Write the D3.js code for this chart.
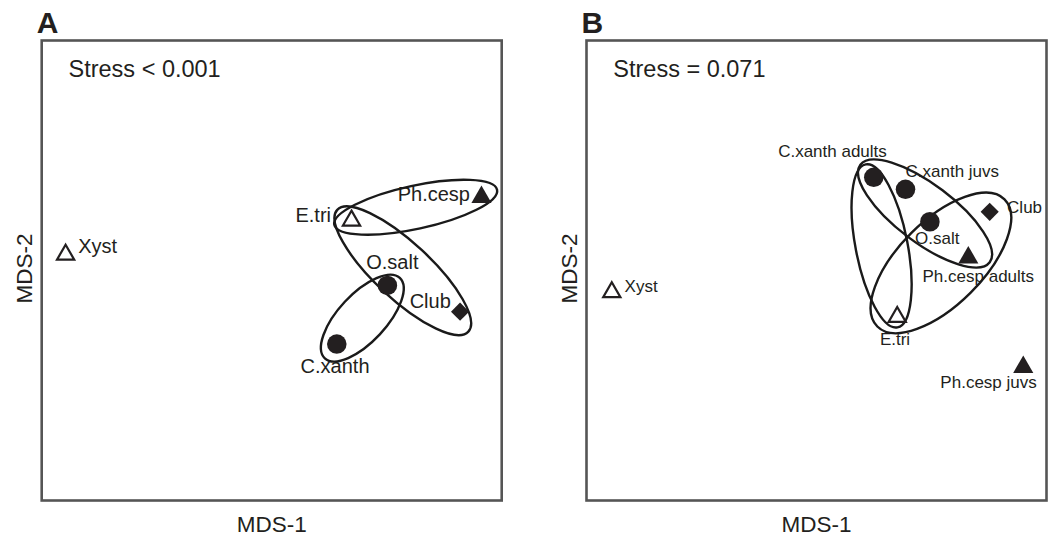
<!DOCTYPE html>
<html>
<head>
<meta charset="utf-8">
<script src="https://cdn.jsdelivr.net/npm/d3@7"></script>
<style>
    body { margin: 0; background: #fff; }
    svg { display: block; font-family: "Liberation Sans", Arial, sans-serif; }
</style>
</head>
<body>
<svg id="chart" width="1053" height="537"></svg>
<script>
// --- data (MDS coordinates) ---
const speciesA = ["Xyst", "E.tri", "Ph.cesp", "O.salt", "Club", "C.xanth"];
const mds1A = [-0.896, 0.347, 0.912, 0.503, 0.819, 0.283];
const mds2A = [0.069, 0.217, 0.319, -0.065, -0.179, -0.320];
const markerA = ["openTriangle", "openTriangle", "triangle", "circle", "diamond", "circle"];

const speciesB = ["Xyst", "C.xanth adults", "C.xanth juvs", "O.salt", "Club", "Ph.cesp adults", "E.tri", "Ph.cesp juvs"];
const mds1B = [-0.890, 0.249, 0.387, 0.493, 0.753, 0.660, 0.351, 0.899];
const mds2B = [-0.094, 0.405, 0.353, 0.212, 0.255, 0.056, -0.202, -0.420];
const markerB = ["openTriangle", "circle", "circle", "circle", "diamond", "triangle", "openTriangle", "triangle"];

// grouping ellipses: centre, semi-axes and tilt in MDS units / degrees
const ellipsesA = [
    { cx: 0.626, cy: 0.275, rx: 0.362, ry: 0.094, angle: 12.2 },
    { cx: 0.570, cy: -0.001, rx: 0.389, ry: 0.122, angle: -42.9 },
    { cx: 0.394, cy: -0.207, rx: 0.239, ry: 0.104, angle: 47 }
];
const ellipsesB = [
    { cx: 0.283, cy: 0.107, rx: 0.361, ry: 0.113, angle: -79 },
    { cx: 0.472, cy: 0.248, rx: 0.352, ry: 0.126, angle: -37 },
    { cx: 0.541, cy: 0.033, rx: 0.391, ry: 0.183, angle: 45 }
];

const stressA = "Stress < 0.001";
const stressB = "Stress = 0.071";
const axisTitles = ["MDS-1", "MDS-2"];

// label placement (anchor, dx, dy in px relative to marker)
const labelPosA = {
    "Xyst": ["start", 12.6, -2],
    "E.tri": ["end", -20.5, 1],
    "Ph.cesp": ["end", -11.5, 4],
    "O.salt": ["middle", 5, -16.5],
    "Club": ["end", -9.3, -3.4],
    "C.xanth": ["middle", -1.7, 28.7]
};
const labelPosB = {
    "Xyst": ["start", 12.8, 0],
    "C.xanth adults": ["middle", -41.3, -20],
    "C.xanth juvs": ["start", 0, -12],
    "O.salt": ["middle", 7.4, 22.3],
    "Club": ["start", 17.4, 1],
    "Ph.cesp adults": ["middle", 10, 24.7],
    "E.tri": ["middle", -2.2, 28.2],
    "Ph.cesp juvs": ["middle", -34.7, 21]
};

const frameSize = 460;
const frameTop = 40.5;
const ink = "#231f20";

const svg = d3.select("#chart");

function drawPanel(opts) {
    const left = opts.left;
    const x = d3.scaleLinear().domain([-1, 1]).range([left, left + frameSize]);
    const y = d3.scaleLinear().domain([-1, 1]).range([frameTop + frameSize, frameTop]);
    const unit = x(1) - x(0);
    const g = svg.append("g");

    // frame
    g.append("rect")
        .attr("x", left).attr("y", frameTop)
        .attr("width", frameSize).attr("height", frameSize)
        .attr("fill", "none")
        .attr("stroke", "#555")
        .attr("stroke-width", 2.6);

    // panel letter
    g.append("text")
        .attr("x", left - 5).attr("y", 32.5)
        .attr("font-size", 30).attr("font-weight", "bold")
        .attr("fill", ink)
        .text(opts.letter);

    g.append("text")
        .attr("x", left + 26.8).attr("y", 77)
        .attr("font-size", 23.5)
        .attr("fill", ink)
        .text(opts.stress);

    // axis titles
    g.append("text")
        .attr("x", left + frameSize / 2).attr("y", 531.5)
        .attr("text-anchor", "middle")
        .attr("font-size", 22.5)
        .attr("fill", ink)
        .text(axisTitles[0]);

    g.append("text")
        .attr("transform", `translate(${left - 10},${frameTop + 228}) rotate(-90)`)
        .attr("text-anchor", "middle")
        .attr("font-size", 22.5)
        .attr("fill", ink)
        .text(axisTitles[1]);

    const points = opts.species.map((s, i) => ({
        name: s, mx: opts.mds1[i], my: opts.mds2[i], marker: opts.marker[i]
    }));

    // labels first, ellipses are drawn over them like in the figure
    points.forEach(p => {
        const pos = opts.labelPos[p.name];
        g.append("text")
            .attr("x", x(p.mx) + pos[1])
            .attr("y", y(p.my) + pos[2])
            .attr("text-anchor", pos[0])
            .attr("font-size", opts.labelSize)
            .attr("fill", ink)
            .text(p.name);
    });

    opts.ellipses.forEach(e => {
        g.append("ellipse")
            .attr("cx", 0).attr("cy", 0)
            .attr("rx", e.rx * unit).attr("ry", e.ry * unit)
            .attr("transform", `translate(${x(e.cx)},${y(e.cy)}) rotate(${-e.angle})`)
            .attr("fill", "none")
            .attr("stroke", "#1a1a1a")
            .attr("stroke-width", 2.4);
    });

    // markers
    points.forEach(p => {
        let path, rot = 0, fill = ink, stroke = "none";
        if (p.marker === "circle") {
            path = d3.symbol(d3.symbolCircle, 300)();
        } else if (p.marker === "diamond") {
            path = d3.symbol(d3.symbolSquare, 165)();
            rot = 45;
        } else if (p.marker === "triangle") {
            path = d3.symbol(d3.symbolTriangle, 175)();
        } else {
            path = d3.symbol(d3.symbolTriangle, 128)();
            fill = "#fff";
            stroke = ink;
        }
        g.append("path")
            .attr("d", path)
            .attr("transform", `translate(${x(p.mx)},${y(p.my)}) rotate(${rot})`)
            .attr("fill", fill)
            .attr("stroke", stroke)
            .attr("stroke-width", 2.2);
    });
}

drawPanel({
    letter: "A", left: 41.7, stress: stressA,
    species: speciesA, mds1: mds1A, mds2: mds2A, marker: markerA,
    ellipses: ellipsesA, labelPos: labelPosA, labelSize: 20
});

drawPanel({
    letter: "B", left: 586.5, stress: stressB,
    species: speciesB, mds1: mds1B, mds2: mds2B, marker: markerB,
    ellipses: ellipsesB, labelPos: labelPosB, labelSize: 17
});
</script>
</body>
</html>
